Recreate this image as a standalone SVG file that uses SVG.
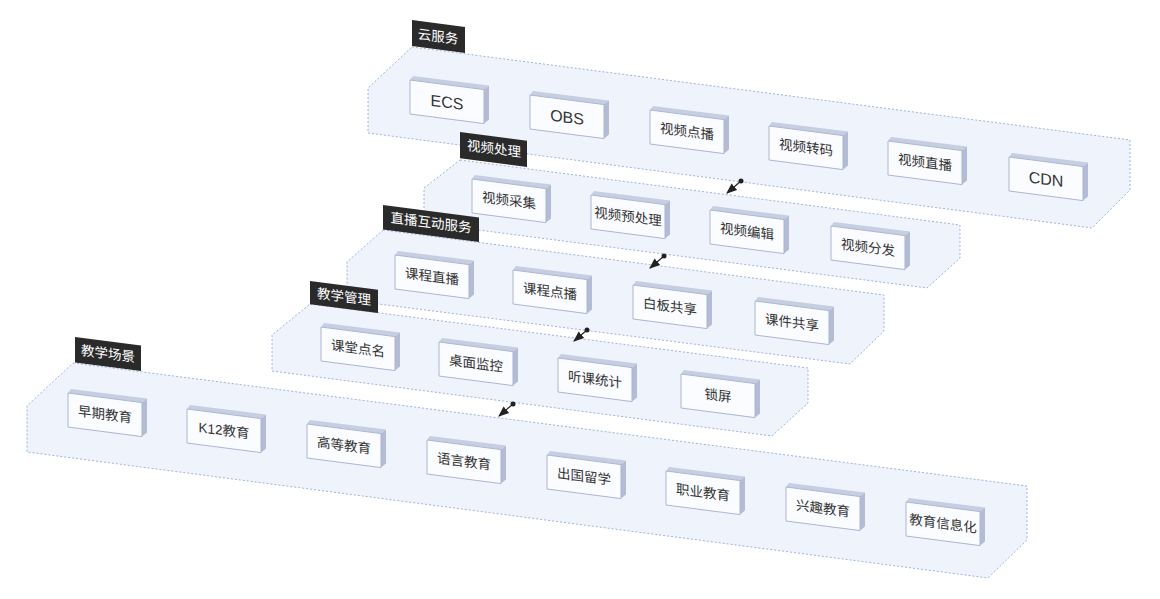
<svg xmlns="http://www.w3.org/2000/svg" width="1160" height="599" viewBox="0 0 1160 599">
<defs>
<style>
.panel{fill:#eff3fb;stroke:#9fb3df;stroke-width:1;stroke-dasharray:2 2}
.lab{fill:#2a2a2a}
.lt{fill:#fff;font-family:"Liberation Sans","Noto Sans CJK SC",sans-serif;font-size:13.5px;text-anchor:middle;dominant-baseline:central}
.f{fill:#fbfcff;stroke:#aab6d3;stroke-width:1}
.t{fill:#c6cee2}
.r{fill:#b3bcd4}
.nt{fill:#333;font-family:"Liberation Sans","Noto Sans CJK SC",sans-serif;font-size:13.5px;text-anchor:middle;dominant-baseline:central}
.en{font-size:16px}
.c{stroke:#222;stroke-width:1.2;fill:none}
</style>
<marker id="ah" viewBox="0 0 10 10" refX="9" refY="5" markerWidth="9" markerHeight="9" orient="auto"><path d="M0,1 L10,5 L0,9 z" fill="#222"/></marker>
<g id="box">
<polygon class="t" points="0,0 74,9.6 79,5.6 3,-4"/>
<polygon class="r" points="74,9.6 79,5.6 79,39.6 74,43.6"/>
<polygon class="f" points="0,0 74,9.6 74,43.6 0,34"/>
</g>
</defs>

<g id="layer1">
<polygon class="panel" points="412,47 1130,140 1130,190 1092,228 368,133 368,88"/>
<polygon class="lab" points="412,20 465,26.9 465,53 412,46"/>
<text class="lt" transform="translate(438,37) skewY(7.4)">云服务</text>
</g>
<g id="n-ecs"><use href="#box" x="410" y="80"/><text class="nt en" transform="translate(447,101.8) skewY(7.4)">ECS</text></g>
<g id="n-obs"><use href="#box" x="530" y="95"/><text class="nt en" transform="translate(567,116.8) skewY(7.4)">OBS</text></g>
<g id="n-vod"><use href="#box" x="650" y="110"/><text class="nt" transform="translate(687,131.8) skewY(7.4)">视频点播</text></g>
<g id="n-trans"><use href="#box" x="769" y="126"/><text class="nt" transform="translate(806,147.8) skewY(7.4)">视频转码</text></g>
<g id="n-live"><use href="#box" x="888" y="141"/><text class="nt" transform="translate(925,162.8) skewY(7.4)">视频直播</text></g>
<g id="n-cdn"><use href="#box" x="1009" y="157"/><text class="nt en" transform="translate(1046,178.8) skewY(7.4)">CDN</text></g>

<g id="layer2">
<polygon class="panel" points="460,160 960,225 960,258 927,288 424,223 424,188"/>
<polygon class="lab" points="460,132 527,140.7 527,167 460,158.3"/>
<text class="lt" transform="translate(494,149) skewY(7.4)">视频处理</text>
</g>
<g id="n-cap"><use href="#box" x="472" y="179"/><text class="nt" transform="translate(509,200.8) skewY(7.4)">视频采集</text></g>
<g id="n-pre"><use href="#box" x="591" y="195"/><text class="nt" transform="translate(628,216.8) skewY(7.4)">视频预处理</text></g>
<g id="n-edit"><use href="#box" x="710" y="210"/><text class="nt" transform="translate(747,231.8) skewY(7.4)">视频编辑</text></g>
<g id="n-dist"><use href="#box" x="831" y="226"/><text class="nt" transform="translate(868,247.8) skewY(7.4)">视频分发</text></g>

<g id="layer3">
<polygon class="panel" points="383,230 884,295 884,331 850,364 347,300 347,262"/>
<polygon class="lab" points="383,205 479,217.5 479,242 383,229.5"/>
<text class="lt" transform="translate(431,223) skewY(7.4)">直播互动服务</text>
</g>
<g id="n-kczb"><use href="#box" x="395" y="255"/><text class="nt" transform="translate(432,276.8) skewY(7.4)">课程直播</text></g>
<g id="n-kcdb"><use href="#box" x="513" y="270"/><text class="nt" transform="translate(550,291.8) skewY(7.4)">课程点播</text></g>
<g id="n-bb"><use href="#box" x="633" y="285"/><text class="nt" transform="translate(670,306.8) skewY(7.4)">白板共享</text></g>
<g id="n-kj"><use href="#box" x="755" y="301"/><text class="nt" transform="translate(792,322.8) skewY(7.4)">课件共享</text></g>

<g id="layer4">
<polygon class="panel" points="310,304 808,368 808,403 772,436 272,371 272,335"/>
<polygon class="lab" points="310,281 378,289.8 378,313 310,304.2"/>
<text class="lt" transform="translate(344,297) skewY(7.4)">教学管理</text>
</g>
<g id="n-dm"><use href="#box" x="321" y="327"/><text class="nt" transform="translate(358,348.8) skewY(7.4)">课堂点名</text></g>
<g id="n-jk"><use href="#box" x="439" y="342"/><text class="nt" transform="translate(476,363.8) skewY(7.4)">桌面监控</text></g>
<g id="n-tk"><use href="#box" x="558" y="358"/><text class="nt" transform="translate(595,379.8) skewY(7.4)">听课统计</text></g>
<g id="n-sp"><use href="#box" x="681" y="374"/><text class="nt" transform="translate(718,395.8) skewY(7.4)">锁屏</text></g>

<g id="layer5">
<polygon class="panel" points="73,363 1027,486 1027,540 988,578 27,452 27,406"/>
<polygon class="lab" points="75,337 141,345.6 141,371 75,362.4"/>
<text class="lt" transform="translate(108,354) skewY(7.4)">教学场景</text>
</g>
<g id="n-zq"><use href="#box" x="68" y="393"/><text class="nt" transform="translate(105,414.8) skewY(7.4)">早期教育</text></g>
<g id="n-k12"><use href="#box" x="187" y="409"/><text class="nt" transform="translate(224,430.8) skewY(7.4)">K12教育</text></g>
<g id="n-gd"><use href="#box" x="307" y="424"/><text class="nt" transform="translate(344,445.8) skewY(7.4)">高等教育</text></g>
<g id="n-yy"><use href="#box" x="427" y="440"/><text class="nt" transform="translate(464,461.8) skewY(7.4)">语言教育</text></g>
<g id="n-cg"><use href="#box" x="547" y="455"/><text class="nt" transform="translate(584,476.8) skewY(7.4)">出国留学</text></g>
<g id="n-zy"><use href="#box" x="666" y="471"/><text class="nt" transform="translate(703,492.8) skewY(7.4)">职业教育</text></g>
<g id="n-xq"><use href="#box" x="786" y="487"/><text class="nt" transform="translate(823,508.8) skewY(7.4)">兴趣教育</text></g>
<g id="n-xx"><use href="#box" x="906" y="502"/><text class="nt" transform="translate(943,523.8) skewY(7.4)">教育信息化</text></g>

<g id="connectors">
<circle cx="741" cy="181" r="2.5" fill="#222"/><line class="c" x1="741" y1="181" x2="727" y2="193" marker-end="url(#ah)"/>
<circle cx="664" cy="256" r="2.5" fill="#222"/><line class="c" x1="664" y1="256" x2="650" y2="268" marker-end="url(#ah)"/>
<circle cx="587" cy="330" r="2.5" fill="#222"/><line class="c" x1="587" y1="330" x2="574" y2="341" marker-end="url(#ah)"/>
<circle cx="513" cy="404" r="2.5" fill="#222"/><line class="c" x1="513" y1="404" x2="499" y2="416" marker-end="url(#ah)"/>
</g>
</svg>
